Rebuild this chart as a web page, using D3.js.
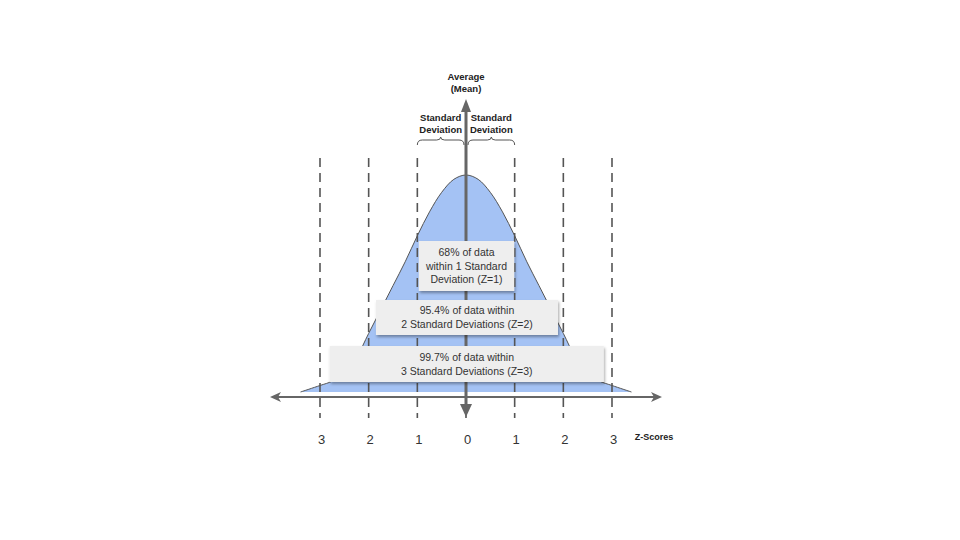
<!DOCTYPE html>
<html>
<head>
<meta charset="utf-8">
<script src="https://cdn.jsdelivr.net/npm/d3@7"></script>
<style>
  html, body { margin: 0; padding: 0; background: #fff; }
  svg { display: block; font-family: "Liberation Sans", Arial, sans-serif; }
</style>
</head>
<body>
<svg id="chart" width="960" height="540"></svg>
<script>
// ---- data ----
const zScores = [-3, -2, -1, 0, 1, 2, 3];
const tickLabels = ["3", "2", "1", "0", "1", "2", "3"];
const curveZ = [-3.4, -3, -2.75, -2.5, -2.25, -2, -1.75, -1.5, -1.25, -1, -0.75, -0.5, -0.25, 0,
                0.25, 0.5, 0.75, 1, 1.25, 1.5, 1.75, 2, 2.25, 2.5, 2.75, 3, 3.4];
const curveHeight = [0.0, 0.03, 0.05, 0.09, 0.16, 0.27, 0.38, 0.49, 0.60, 0.72, 0.83, 0.92, 0.98, 1.0,
                     0.98, 0.92, 0.83, 0.72, 0.60, 0.49, 0.38, 0.27, 0.16, 0.09, 0.05, 0.03, 0.0];
const boxLines = [
  ["68% of data", "within 1 Standard", "Deviation (Z=1)"],
  ["95.4% of data within", "2 Standard Deviations (Z=2)"],
  ["99.7% of data within", "3 Standard Deviations (Z=3)"]
];
const boxSpan = [[-0.97, 0.99], [-1.85, 1.89], [-2.8, 2.83]];
const meanLabel = ["Average", "(Mean)"];
const sdLabel = ["Standard", "Deviation"];
const axisTitle = "Z-Scores";

// ---- layout ----
const svg = d3.select("#chart");
const x = d3.scaleLinear().domain([-3, 3]).range([320, 612]);
const y = d3.scaleLinear().domain([0, 1]).range([392, 175]);
const axisY = 397;
const grey = "#666666";

const defs = svg.append("defs");
const f = defs.append("filter").attr("id", "shadow")
  .attr("x", "-10%").attr("y", "-20%").attr("width", "120%").attr("height", "150%");
f.append("feDropShadow").attr("dx", 1).attr("dy", 2).attr("stdDeviation", 1.5)
  .attr("flood-color", "#000").attr("flood-opacity", 0.35);

// curve
const pts = curveZ.map((z, i) => [z, curveHeight[i]]);
svg.append("path")
  .datum(pts)
  .attr("d", d3.area().x(d => x(d[0])).y0(y(0)).y1(d => y(d[1])).curve(d3.curveCatmullRom.alpha(0.5)))
  .attr("fill", "#a4c2f4");
svg.append("path")
  .datum(pts)
  .attr("d", d3.line().x(d => x(d[0])).y(d => y(d[1])).curve(d3.curveCatmullRom.alpha(0.5)))
  .attr("fill", "none").attr("stroke", "#555").attr("stroke-width", 1);

// dashed verticals
svg.append("g").selectAll("line").data(zScores).join("line")
  .attr("x1", d => x(d)).attr("x2", d => x(d))
  .attr("y1", 158).attr("y2", 418)
  .attr("stroke", "#555").attr("stroke-width", 1.6)
  .attr("stroke-dasharray", "9,6");

// horizontal axis with arrows
svg.append("line").attr("x1", 276).attr("x2", 656).attr("y1", axisY).attr("y2", axisY)
  .attr("stroke", grey).attr("stroke-width", 2);
svg.append("path").attr("d", `M270,${axisY} L281,${axisY - 5} L278,${axisY} L281,${axisY + 5} Z`).attr("fill", grey);
svg.append("path").attr("d", `M662,${axisY} L651,${axisY - 5} L654,${axisY} L651,${axisY + 5} Z`).attr("fill", grey);

// vertical mean axis with arrows
const cx = x(0);
svg.append("line").attr("x1", cx).attr("x2", cx).attr("y1", 108).attr("y2", 408)
  .attr("stroke", grey).attr("stroke-width", 3);
svg.append("path").attr("d", `M${cx},99 L${cx + 5},112 L${cx - 5},112 Z`).attr("fill", grey);
svg.append("path").attr("d", `M${cx},417 L${cx + 6},404 L${cx - 6},404 Z`).attr("fill", grey);

// boxes
boxLines.forEach((lines, i) => {
  const top = [241, 300, 346][i];
  const h = [50, 35, 36][i];
  const x0 = x(boxSpan[i][0]), x1 = x(boxSpan[i][1]);
  svg.append("rect").attr("x", x0).attr("y", top).attr("width", x1 - x0).attr("height", h)
    .attr("fill", "#eeeeee").attr("filter", "url(#shadow)");
  const lh = i === 0 ? 13.5 : 14;
  const startY = top + h / 2 - (lines.length - 1) * lh / 2;
  svg.append("text").attr("text-anchor", "middle").attr("font-size", 10.5).attr("fill", "#333")
    .selectAll("tspan").data(lines).join("tspan")
    .attr("x", (x0 + x1) / 2).attr("y", (d, j) => startY + j * lh).attr("dy", "0.35em")
    .text(d => d);
});

// tick labels
const ax = svg.append("g").attr("transform", `translate(0,432)`)
  .call(d3.axisBottom(x).tickValues(zScores).tickFormat((d, i) => tickLabels[i]).tickSize(0));
ax.select(".domain").remove();
ax.selectAll("text").attr("font-size", 13).attr("fill", "#333")
  .attr("font-family", "'Liberation Sans', Arial, sans-serif").attr("dx", 1);

svg.append("text").attr("x", 654).attr("y", 440).attr("text-anchor", "middle")
  .attr("font-size", 9).attr("font-weight", "bold").attr("fill", "#222").text(axisTitle);

// mean label
svg.append("text").attr("text-anchor", "middle").attr("font-size", 9.5).attr("font-weight", "bold").attr("fill", "#222")
  .selectAll("tspan").data(meanLabel).join("tspan")
  .attr("x", cx).attr("y", (d, j) => 80 + j * 12).text(d => d);

// SD labels
[[x(-1), cx - 2], [cx + 2, x(1)]].forEach(([a, b]) => {
  const mid = (a + b) / 2;
  svg.append("text").attr("text-anchor", "middle").attr("font-size", 9.5).attr("font-weight", "bold").attr("fill", "#222")
    .selectAll("tspan").data(sdLabel).join("tspan")
    .attr("x", mid).attr("y", (d, j) => 121 + j * 12).text(d => d);
  // brace
  const top = 137, bot = 145;
  const m = mid;
  const p = `M${a},${bot} Q${a},${top + 3} ${a + 5},${top + 3} L${m - 4},${top + 3} Q${m},${top + 3} ${m},${top}
             Q${m},${top + 3} ${m + 4},${top + 3} L${b - 5},${top + 3} Q${b},${top + 3} ${b},${bot}`;
  svg.append("path").attr("d", p).attr("fill", "none").attr("stroke", "#555").attr("stroke-width", 1);
});
</script>
</body>
</html>
